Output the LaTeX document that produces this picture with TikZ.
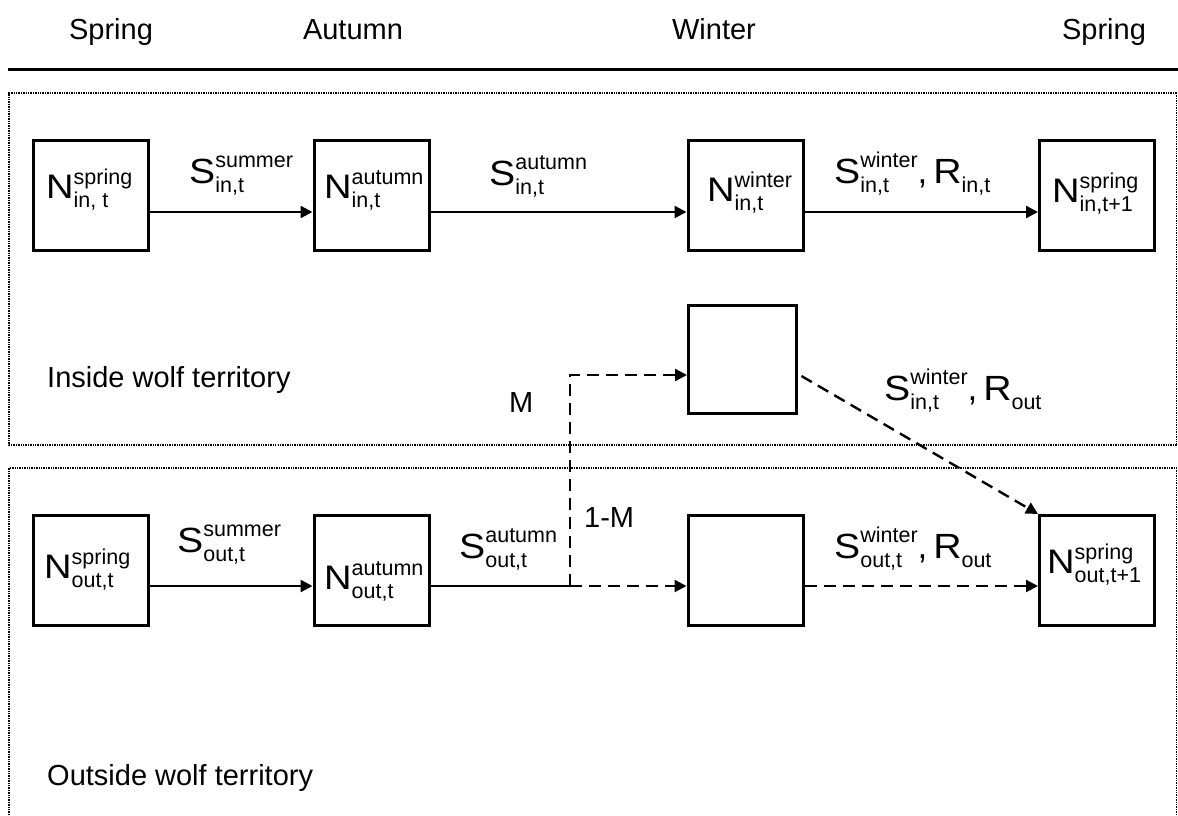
\documentclass[tikz,border=0pt]{standalone}
\usepackage{graphicx}
\usepackage{fontspec}
\setmainfont{Liberation Sans}
\usetikzlibrary{arrows.meta}
\newsavebox\supbox
\newsavebox\subbox
% \lbl[raise]{main}{sup}{sub}
\newcommand\lbl[4][14pt]{\scalebox{1.12}[1]{#2}{\fontsize{21.5}{22}\selectfont
  \sbox\supbox{#3}\sbox\subbox{#4}%
  \rlap{\raisebox{#1}{\usebox\supbox}}\raisebox{-9pt}{\usebox\subbox}%
  \ifdim\wd\supbox>\wd\subbox\hspace{\dimexpr\wd\supbox-\wd\subbox\relax}\fi}}
\begin{document}
\begin{tikzpicture}[x=1pt,y=-1pt,
  box/.style={draw, line width=3pt, minimum width=115pt, minimum height=110pt, inner sep=0pt},
  arr/.style={line width=2.4pt, -{Triangle[length=12pt,width=12pt]}},
  darr/.style={arr, dash pattern=on 12pt off 7pt},
  dotline/.style={line width=2pt, dash pattern=on 1.4pt off 1pt},
  thindot/.style={line width=1pt, dash pattern=on 1.4pt off 1pt},
  hdr/.style={font=\fontsize{29}{34}\selectfont, anchor=base, inner sep=0pt},
  plain/.style={font=\fontsize{29}{34}\selectfont, anchor=base west, inner sep=0pt},
  nlab/.style={font=\fontsize{34}{40}\selectfont, anchor=base west, inner sep=0pt},
  slab/.style={font=\fontsize{35}{42}\selectfont, anchor=base west, inner sep=0pt}]
\useasboundingbox (0,0) rectangle (1178,816);

% headers
\node[hdr] (h1) at (111,40) {Spring};
\node[hdr] (h2) at (353,40) {Autumn};
\node[hdr] (h3) at (714,40) {Winter};
\node[hdr] (h4) at (1104,40) {Spring};
\draw[line width=3pt] (8,70) -- (1178,70);

% territories
\draw[dotline] (1176.5,93) -- (9,93) -- (9,445) -- (1176.5,445);
\draw[thindot] (1176.5,93) -- (1176.5,445);
\draw[dotline] (9,820) -- (9,468) -- (1176.5,468);
\draw[thindot] (1176.5,468) -- (1176.5,820);
\node[plain] (tin) at (47,387) {Inside wolf territory};
\node[plain] (tout) at (47,785) {Outside wolf territory};

% boxes
\node[box] (bi1) at (91,195.5) {};
\node[box] (bi2) at (371.5,195.5) {};
\node[box] (bi3) at (745.5,195.5) {};
\node[box] (bi4) at (1097,195.5) {};
\node[box, minimum width=108pt, minimum height=108pt] (bm) at (742.5,359.5) {};
\node[box] (bo1) at (91,570.5) {};
\node[box] (bo2) at (371.5,570.5) {};
\node[box] (bo3) at (745.5,570.5) {};
\node[box] (bo4) at (1097,570.5) {};

% box labels
\node[nlab] (ni1) at (46,198) {\lbl{N}{spring}{in, t}};
\node[nlab] (ni2) at (324,198) {\lbl{N}{autumn}{in,t}};
\node[nlab] (ni3) at (707,201) {\lbl{N}{winter}{in,t}};
\node[nlab] (ni4) at (1052,202) {\lbl{N}{spring}{in,t+1}};
\node[nlab] (no1) at (44,578) {\lbl{N}{spring}{out,t}};
\node[nlab] (no2) at (324,589) {\lbl{N}{autumn}{out,t}};
\node[nlab] (no4) at (1047,573) {\lbl{N}{spring}{out,t+1}};

% transition labels
\node[slab] (si1) at (189,183) {\lbl[16pt]{S}{summer}{in,t}};
\node[slab] (si2) at (489,185) {\lbl[16pt]{S}{autumn}{in,t}};
\node[slab] (si3) at (834,183) {\lbl[16pt]{S}{winter}{in,t},\,\lbl{R}{}{in,t}};
\node[slab] (sm) at (884,400) {\lbl[16pt]{S}{winter}{in,t},\,\lbl{R}{}{out}};
\node[slab] (so1) at (177,552) {\lbl[16pt]{S}{summer}{out,t}};
\node[slab] (so2) at (459,558) {\lbl[16pt]{S}{autumn}{out,t}};
\node[slab] (so3) at (834,558) {\lbl[16pt]{S}{winter}{out,t},\,\lbl{R}{}{out}};
\node[plain] (lm) at (509,412) {M};
\node[plain] (l1m) at (584,527) {1-M};

% connectors
\draw[arr] ([yshift=-16.5pt]bi1.east) -- ([yshift=-16.5pt]bi2.west);
\draw[arr] ([yshift=-16.5pt]bi2.east) -- ([yshift=-16.5pt]bi3.west);
\draw[arr] ([yshift=-16.5pt]bi3.east) -- ([yshift=-16.5pt]bi4.west);
\draw[arr] ([yshift=-15.5pt]bo1.east) -- ([yshift=-15.5pt]bo2.west);
\coordinate (split) at (570,586);
\draw[line width=2.4pt] ([yshift=-15.5pt]bo2.east) -- (split);
\draw[darr] (split) -- ([yshift=-15.5pt]bo3.west);
\draw[darr] (split) |- ([yshift=-15.5pt]bm.west);
\draw[darr] ([yshift=-15.5pt]bo3.east) -- ([yshift=-15.5pt]bo4.west);
\draw[darr, shorten <=4pt] ([yshift=-14.5pt]bm.east) -- (bo4.north west);
\end{tikzpicture}
\end{document}
